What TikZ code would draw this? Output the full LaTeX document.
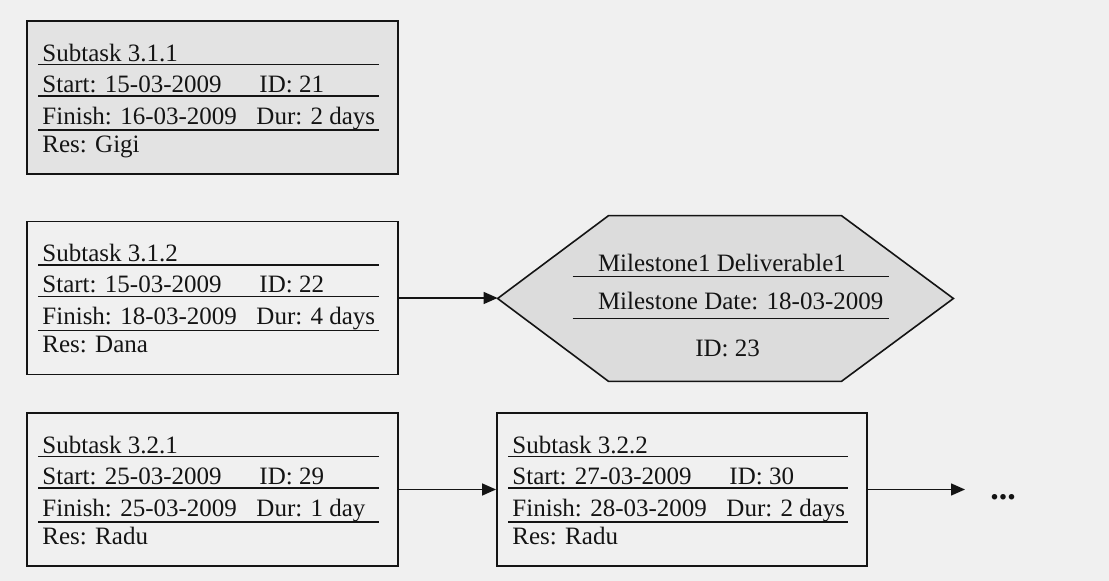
\documentclass[tikz,border=0pt]{standalone}
\usepackage{fontspec}
\setmainfont{Liberation Serif}
\usetikzlibrary{arrows.meta,calc}
\definecolor{paper}{HTML}{F0F0F0}
\definecolor{boxgray}{HTML}{E3E3E3}
\definecolor{hexgray}{HTML}{DCDCDC}
\definecolor{ink}{HTML}{141414}
\tikzset{
  taskbox/.style={draw=ink, line width=0.95pt, minimum width=#1, minimum height=76.5pt, inner sep=0pt},
  taskbox/.default=185.5pt,
  hexbox/.style={minimum width=227.5pt, minimum height=82.5pt, inner sep=0pt},
  txt/.style={anchor=base west, inner sep=0pt, text=ink, font=\fontsize{12.5}{15}\selectfont},
  ctxt/.style={anchor=base, inner sep=0pt, text=ink, font=\fontsize{12.5}{15}\selectfont},
  rule/.style={draw=ink, line width=0.75pt},
  conn/.style={draw=ink, line width=0.75pt, -{Triangle[length=7pt,width=6pt]}}
}
\newcommand\taskrows[7]{%
  \node[txt] (#1-title) at ($(#1.north west)+(16,41)$) {#2};
  \draw[rule] ($(#1.north west)+(12,44.5)$) -- ($(#1.north east)+(-20,44.5)$);
  \node[txt] (#1-start) at ($(#1.north west)+(16,72)$) {#3};
  \node[txt] (#1-id) at ($(#1.north west)+(233,72)$) {#4};
  \draw[rule] ($(#1.north west)+(12,76)$) -- ($(#1.north east)+(-20,76)$);
  \node[txt] (#1-finish) at ($(#1.north west)+(16,104)$) {#5};
  \node[txt] (#1-dur) at ($(#1.north west)+(230,104)$) {#6};
  \draw[rule] ($(#1.north west)+(12,110)$) -- ($(#1.north east)+(-20,110)$);
  \node[txt] (#1-res) at ($(#1.north west)+(16,132)$) {#7};
}
\begin{document}
\begin{tikzpicture}[x=0.5pt,y=-0.5pt]
  \fill[paper] (0,0) rectangle (1109,581);
  \useasboundingbox (0,0) rectangle (1109,581);

  % task boxes
  \node[taskbox, fill=boxgray] (t311) at (212.5,97.5) {};
  \node[taskbox] (t312) at (212.5,298) {};
  \node[taskbox] (t321) at (212.5,489.5) {};
  \node[taskbox=185pt] (t322) at (682,489.5) {};

  \taskrows{t311}{Subtask 3.1.1}{Start: 15-03-2009}{ID: 21}{Finish: 16-03-2009}{Dur: 2 days}{Res: Gigi}
  \taskrows{t312}{Subtask 3.1.2}{Start: 15-03-2009}{ID: 22}{Finish: 18-03-2009}{Dur: 4 days}{Res: Dana}
  \taskrows{t321}{Subtask 3.2.1}{Start: 25-03-2009}{ID: 29}{Finish: 25-03-2009}{Dur: 1 day}{Res: Radu}
  \taskrows{t322}{Subtask 3.2.2}{Start: 27-03-2009}{ID: 30}{Finish: 28-03-2009}{Dur: 2 days}{Res: Radu}

  % milestone hexagon
  \node[hexbox] (ms) at (725.5,298.5) {};
  \filldraw[fill=hexgray, draw=ink, line width=0.8pt]
    (ms.west) -- ($(ms.north west)+(111,0)$) -- ($(ms.north east)+(-112,0)$)
    -- (ms.east) -- ($(ms.south east)+(-112,0)$) -- ($(ms.south west)+(111,0)$) -- cycle;
  \node[txt] (ms-title) at ($(ms.north west)+(100,56)$) {Milestone1 Deliverable1};
  \draw[rule] ($(ms.north west)+(75,61)$) -- ($(ms.north west)+(391,61)$);
  \node[txt] (ms-date) at ($(ms.north west)+(100,94)$) {Milestone Date: 18-03-2009};
  \draw[rule] ($(ms.north west)+(75,103)$) -- ($(ms.north west)+(391,103)$);
  \node[ctxt] (ms-id) at ($(ms.north west)+(230,141)$) {ID: 23};

  % continuation
  \coordinate (more) at (965,489.5);
  \node[anchor=base, inner sep=0pt, text=ink, font=\fontsize{17}{17}\selectfont\bfseries] (dots) at (1003,500) {...};

  % connectors
  \draw[conn] (t312.east) -- (t312.east -| ms.west);
  \draw[conn] (t321.east) -- (t322.west);
  \draw[conn] (t322.east) -- (more);
\end{tikzpicture}
\end{document}
